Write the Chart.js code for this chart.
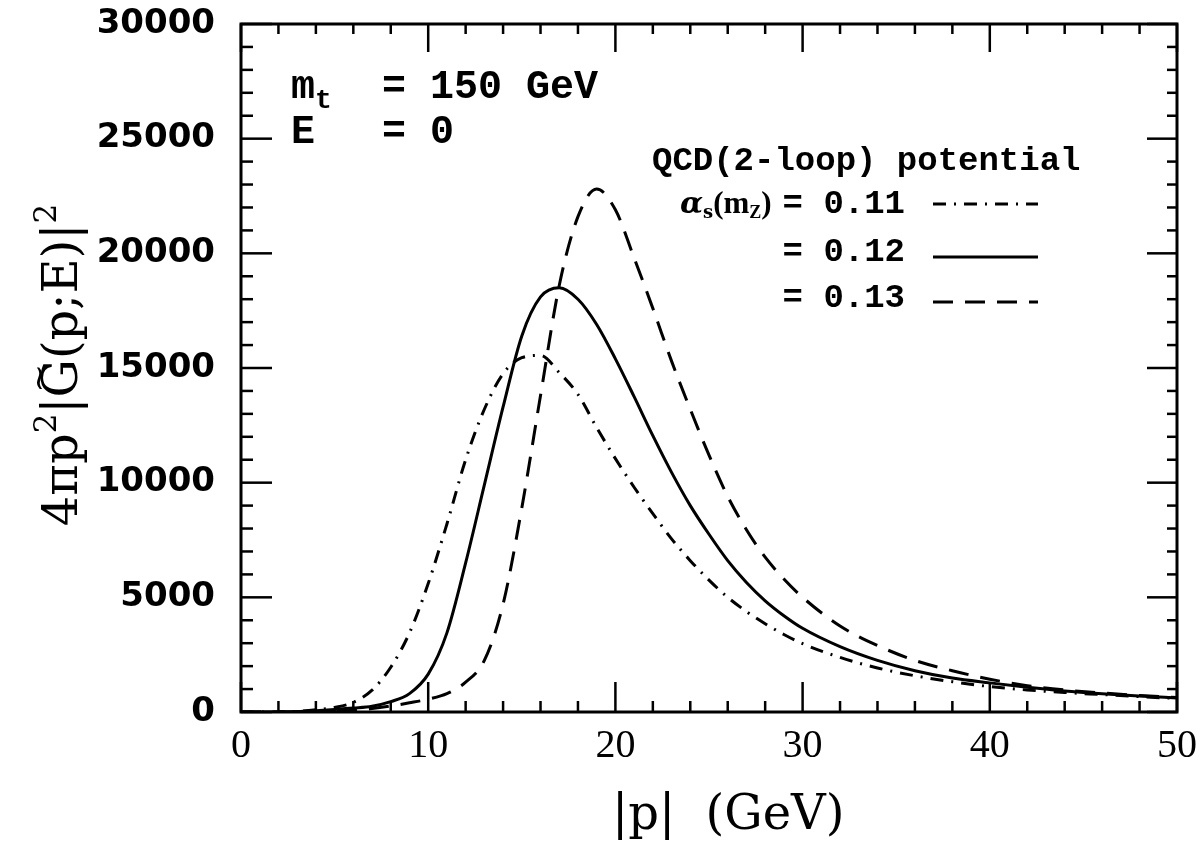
<!DOCTYPE html>
<html>
<head>
<meta charset="utf-8">
<script src="https://cdn.jsdelivr.net/npm/chart.js@4"></script>
<style>
  html, body { margin: 0; padding: 0; background: #fff; }
</style>
</head>
<body>
<canvas id="chart" width="1201" height="846"></canvas>
<script>
// |p| grid in GeV
const momentum = [0, 1, 2, 3, 4, 5, 6, 7, 8, 9, 10, 11, 12, 13, 14, 15, 16, 17, 18, 19, 20,
  21, 22, 23, 24, 25, 26, 27, 28, 29, 30, 32, 34, 36, 38, 40, 42, 44, 46, 48, 50];

// 4 pi p^2 |G(p;E)|^2 for three values of alpha_s(m_Z)
const alpha011 = [0, 0, 5, 30, 100, 200, 420, 950, 1950, 3450, 5600, 8200, 11000, 13200, 14750, 15450, 15550,
  14800, 13850, 12400, 11050, 9800, 8650, 7550, 6600, 5750, 5000, 4380, 3850, 3380, 2980,
  2380, 1920, 1580, 1320, 1110, 960, 850, 760, 670, 590];
const alpha012 = [0, 0, 5, 20, 60, 110, 170, 250, 450, 800, 1650, 3450, 6500, 9900, 13300, 16400, 18100,
  18500, 18000, 16900, 15400, 13750, 12050, 10450, 9000, 7750, 6600, 5650, 4850, 4200, 3650,
  2850, 2250, 1800, 1480, 1270, 1080, 920, 800, 700, 610];
const alpha013 = [0, 0, 0, 5, 15, 40, 80, 150, 260, 400, 560, 800, 1300, 2250, 4700, 8900, 13800,
  18600, 21600, 22800, 21900, 19800, 17600, 15300, 13200, 11200, 9400, 7950, 6750, 5800, 5000,
  3750, 2900, 2250, 1800, 1430, 1150, 960, 830, 720, 630];

const seriesLabels = ["= 0.11", "= 0.12", "= 0.13"];
const seriesDashes = [[13, 8, 2, 8], [], [20, 12]];

const xRange = [0, 50];
const yRange = [0, 30000];
const xSteps = { major: 10, minor: 2 };
const ySteps = { major: 5000, minor: 1000 };

function toPoints(values) {
  return values.map((v, i) => ({ x: momentum[i], y: v }));
}

function line(ctx, x1, y1, x2, y2) {
  ctx.beginPath();
  ctx.moveTo(x1, y1);
  ctx.lineTo(x2, y2);
  ctx.stroke();
}

// draws runs of text pieces left to right, returns end x
function drawRuns(ctx, runs, x, y) {
  runs.forEach((r) => {
    ctx.font = r.font;
    ctx.fillText(r.text, x, y + (r.dy || 0));
    const w = ctx.measureText(r.text).width;
    if (r.tilde) {
      ctx.font = "34px 'DejaVu Serif'";
      ctx.textAlign = "center";
      ctx.fillText("~", x + w / 2, y - 27);
      ctx.textAlign = "left";
    }
    x += w + (r.gap || 0);
  });
  return x;
}

const decorPlugin = {
  id: "decor",
  afterDatasetsDraw(chart) {
    const ctx = chart.ctx;
    const xs = chart.scales.x;
    const ys = chart.scales.y;
    const { left, right, top, bottom } = chart.chartArea;

    ctx.save();
    ctx.strokeStyle = "#000";
    ctx.fillStyle = "#000";
    ctx.setLineDash([]);

    // inward ticks on all four sides
    ctx.lineWidth = 2.5;
    for (let v = xRange[0]; v <= xRange[1]; v += xSteps.minor) {
      const px = xs.getPixelForValue(v);
      const major = v % xSteps.major === 0;
      line(ctx, px, bottom, px, bottom - (major ? 30 : 11));
      line(ctx, px, top, px, top + (major ? 28 : 10));
    }
    for (let v = yRange[0]; v <= yRange[1]; v += ySteps.minor) {
      const py = ys.getPixelForValue(v);
      const major = v % ySteps.major === 0;
      line(ctx, left, py, left + (major ? 31 : 12), py);
      line(ctx, right, py, right - (major ? 30 : 10), py);
    }

    ctx.lineWidth = 3;
    ctx.strokeRect(left, top, right - left, bottom - top);

    // annotations
    ctx.textAlign = "left";
    ctx.textBaseline = "alphabetic";
    const mono = "bold 40px 'Liberation Mono'";
    drawRuns(ctx, [{ text: "m", font: mono }, { text: "t", font: "bold 28px 'Liberation Mono'", dy: 10 }], 291, 98);
    ctx.font = mono;
    ctx.fillText("= 150 GeV", 382, 98);
    ctx.fillText("E", 291, 143);
    ctx.fillText("= 0", 382, 143);

    // legend
    const legMono = "bold 34px 'Liberation Mono'";
    ctx.font = legMono;
    ctx.fillText("QCD(2-loop) potential", 652, 170);
    drawRuns(ctx, [
      { text: "α", font: "italic bold 30px 'DejaVu Serif'" },
      { text: "s", font: "bold 18px 'DejaVu Serif'", dy: 5 },
      { text: "(m", font: "bold 31px 'Liberation Serif'" },
      { text: "Z", font: "bold 18px 'Liberation Serif'", dy: 5 },
      { text: ")", font: "bold 31px 'Liberation Serif'" },
    ], 680, 213);
    const rowBase = [213, 261, 307];
    const rowLine = [204, 257, 302];
    ctx.textAlign = "right";
    ctx.font = legMono;
    chart.data.datasets.forEach((ds, i) => {
      ctx.fillText(seriesLabels[i], 905, rowBase[i]);
      ctx.lineWidth = 3;
      ctx.setLineDash(ds.borderDash || []);
      line(ctx, 933, rowLine[i], 1038, rowLine[i]);
    });
    ctx.setLineDash([]);
    ctx.textAlign = "left";

    // x axis title
    drawRuns(ctx, [{ text: "|p|  (GeV)", font: "48px 'DejaVu Serif'" }], 612, 829);

    // y axis title, rotated
    ctx.translate(77, 365);
    ctx.rotate(-Math.PI / 2);
    const base = "48px 'DejaVu Serif'";
    const sup = "31px 'DejaVu Serif'";
    const runs = [
      { text: "4πp", font: base },
      { text: "2", font: sup, dy: -21 },
      { text: "|", font: base },
      { text: "G", font: base, tilde: true },
      { text: "(p;E)", font: base },
      { text: "|", font: base },
      { text: "2", font: sup, dy: -21 },
    ];
    let total = 0;
    runs.forEach((r) => { ctx.font = r.font; total += ctx.measureText(r.text).width; });
    drawRuns(ctx, runs, -total / 2, 0);
    ctx.restore();
  },
};

const datasets = [alpha011, alpha012, alpha013].map((vals, i) => ({
  label: seriesLabels[i],
  data: toPoints(vals),
  borderColor: "#000",
  borderWidth: 3,
  borderDash: seriesDashes[i],
  pointRadius: 0,
  fill: false,
  cubicInterpolationMode: "monotone",
}));

new Chart(document.getElementById("chart"), {
  type: "line",
  data: { datasets },
  options: {
    responsive: false,
    animation: false,
    devicePixelRatio: 1,
    layout: { padding: { left: 0, top: 24, right: 24, bottom: 0 } },
    plugins: { legend: { display: false }, tooltip: { enabled: false } },
    scales: {
      x: {
        type: "linear",
        min: xRange[0],
        max: xRange[1],
        grid: { display: false, drawTicks: false },
        border: { display: false },
        ticks: {
          stepSize: xSteps.major,
          color: "#000",
          padding: 10,
          maxRotation: 0,
          callback: (v) => String(v),
          font: { family: "'Liberation Serif'", size: 40 },
        },
        afterFit: (scale) => {
          scale.height = 134;
          scale.paddingLeft = 0;
          scale.paddingRight = 0;
        },
      },
      y: {
        min: yRange[0],
        max: yRange[1],
        grid: { display: false, drawTicks: false },
        border: { display: false },
        ticks: {
          stepSize: ySteps.major,
          color: "#000",
          padding: 26,
          callback: (v) => String(v),
          font: { family: "'DejaVu Sans'", size: 34, weight: "bold" },
        },
        afterFit: (scale) => {
          scale.width = 241;
          scale.paddingTop = 0;
          scale.paddingBottom = 0;
        },
      },
    },
  },
  plugins: [decorPlugin],
});
</script>
</body>
</html>
